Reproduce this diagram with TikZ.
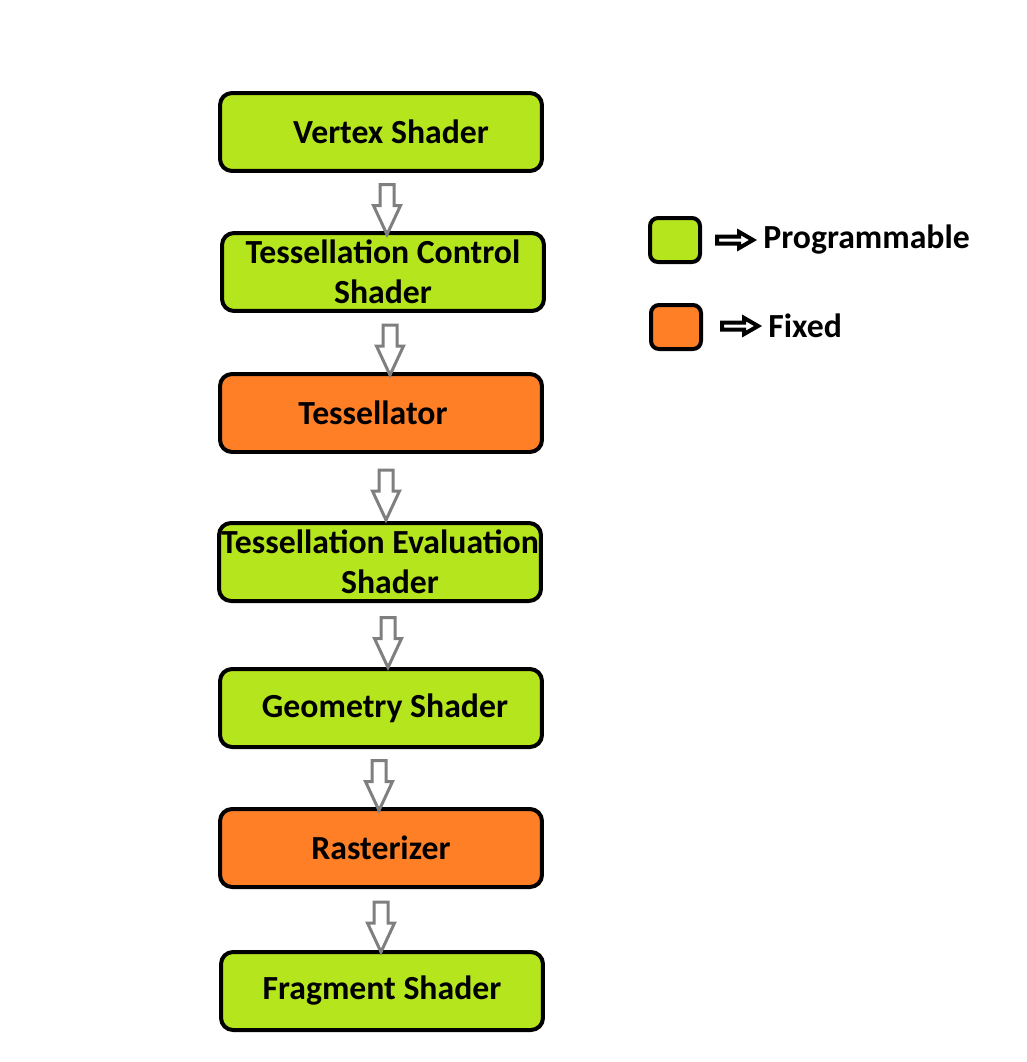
\documentclass[tikz,border=0pt]{standalone}
\usepackage{fontspec}
\setmainfont{Carlito}
\usetikzlibrary{shapes.arrows, positioning, calc}
\definecolor{progGreen}{HTML}{B5E61D}
\definecolor{fixOrange}{HTML}{FF7F27}
\definecolor{flowGray}{HTML}{7F7F7F}
\tikzset{
  stage/.style={draw=black, line width=0.08cm, rounded corners=0.24cm,
    minimum width=6.44cm, minimum height=1.56cm, align=center, inner sep=0pt,
    font=\bfseries\fontsize{19.2}{22.8}\selectfont},
  prog/.style={stage, fill=progGreen},
  fixed/.style={stage, fill=fixOrange},
  flow/.style={single arrow, draw=flowGray, line width=0.06cm, fill=white,
    shape border rotate=270, minimum height=1cm, inner sep=0.11cm,
    single arrow head extend=0.13cm, single arrow tip angle=50},
  keybox/.style={minimum width=1cm, minimum height=0.88cm, rounded corners=0.16cm},
  keyarrow/.style={single arrow, draw=black, line width=0.08cm, fill=white,
    minimum height=0.72cm, inner sep=0.03cm,
    single arrow head extend=0.09cm, single arrow tip angle=60},
  keytext/.style={font=\bfseries\fontsize{19.2}{22.8}\selectfont, inner sep=0pt}
}
\begin{document}
\begin{tikzpicture}[x=0.02cm, y=-0.02cm]
    \useasboundingbox (0,0) rectangle (1027,1062);
    % pipeline stages
    \node[prog] (vs) at (381,132) {\hspace{0.4cm}Vertex Shader};
    \node[prog] (tcs) at (383,272) {Tessellation Control\\Shader};
    \node[fixed] (tess) at (381,413) {Tessellator\hspace{0.32cm}};
    \node[prog] (tes) at (380,562) {Tessellation Evaluation\\\hspace{0.4cm}Shader};
    \node[prog] (gs) at (381,708) {\hspace{0.16cm}Geometry Shader};
    \node[fixed] (rast) at (381,848) {Rasterizer};
    \node[prog] (fs) at (382,991) {Fragment Shader};
    % hollow arrows between stages
    \foreach \a/\b/\dx in {vs/tcs/5, tcs/tess/8, tess/tes/5.5, tes/gs/7.5, gs/rast/-2, rast/fs/-0.5}
        \node[flow] at ($(\a.south)!0.5!(\b.north)+(\dx,0)$) {};
    % legend
    \node[prog, keybox] (lp) at (675,240) {};
    \node[fixed, keybox] (lf) at (676,327) {};
    \node[keyarrow] (ap) at (732,240) {};
    \node[keyarrow] (af) at (737,326) {};
    \node[keytext, right=0.12cm of ap] {Programmable};
    \node[keytext, right=0.12cm of af] {Fixed};
\end{tikzpicture}
\end{document}
